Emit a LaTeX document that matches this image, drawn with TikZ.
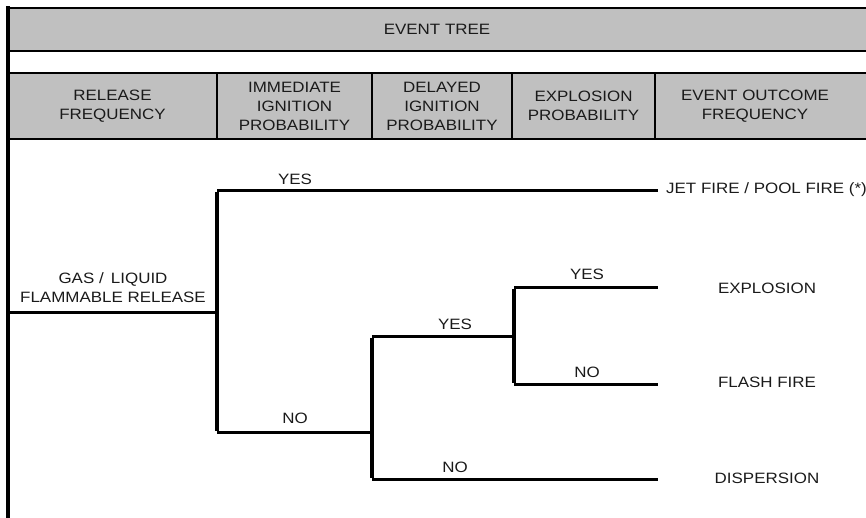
\documentclass[tikz,border=0pt]{standalone}
\usepackage{fontspec}
\setmainfont[FakeStretch=1.13]{Liberation Sans}
\definecolor{band}{HTML}{C0C0C0}
\definecolor{ink}{HTML}{1A1A1A}
\begin{document}
\begin{tikzpicture}[x=1pt,y=-1pt,
  txt/.style={text=ink, font=\fontsize{15}{19}\selectfont, align=center, inner sep=0pt},
  cell/.style={draw=black, fill=band, line width=2pt, inner sep=0pt},
  hline/.style={line width=3pt, draw=black},
  vline/.style={line width=4.6pt, draw=black},
  border/.style={line width=3.2pt, draw=black}]
\useasboundingbox (0,0) rectangle (866,518);
% title band
\path[cell] (8,8) rectangle (880,51);
\node[txt] (title) at (437,29) {EVENT TREE};
% white band
\draw[line width=2pt] (8,73) -- (880,73);
% header cells
\path[cell] (8,73) rectangle (217,139);
\path[cell] (217,73) rectangle (372,139);
\path[cell] (372,73) rectangle (512,139);
\path[cell] (512,73) rectangle (655,139);
\path[cell] (655,73) rectangle (880,139);
\node[txt] (h1) at (112.5,106) {RELEASE\\FREQUENCY};
\node[txt] (h2) at (294.5,106) {IMMEDIATE\\IGNITION\\PROBABILITY};
\node[txt] (h3) at (442,106) {DELAYED\\IGNITION\\PROBABILITY};
\node[txt] (h4) at (583.5,106) {EXPLOSION\\PROBABILITY};
\node[txt] (h5) at (755,106) {EVENT OUTCOME\\FREQUENCY};
% left border
\draw[border] (8,6.5) -- (8,520);
% tree coordinates
\coordinate (s) at (8,312);
\coordinate (a) at (217,312);
\coordinate (aT) at (217,191);
\coordinate (aB) at (217,432);
\coordinate (jet) at (658,191);
\coordinate (b) at (372,432);
\coordinate (bT) at (372,336);
\coordinate (bB) at (372,479);
\coordinate (c) at (514,336);
\coordinate (cT) at (514,287);
\coordinate (cB) at (514,384);
\coordinate (exp) at (658,287);
\coordinate (fla) at (658,384);
\coordinate (dis) at (658,479);
% horizontals
\draw[hline] (s) -- (a);
\draw[hline] (aT) -- (jet);
\draw[hline] (aB) -- (b);
\draw[hline] (bT) -- (c);
\draw[hline] (cT) -- (exp);
\draw[hline] (cB) -- (fla);
\draw[hline] (bB) -- (dis);
% verticals
\draw[vline] ([yshift=-1.5pt]aT) -- ([yshift=1.5pt]aB);
\draw[vline] ([yshift=-1.5pt]bT) -- ([yshift=1.5pt]bB);
\draw[vline] ([yshift=-1.5pt]cT) -- ([yshift=1.5pt]cB);
% labels
\node[txt] (rel) at (113,288) {GAS /\, LIQUID\\FLAMMABLE RELEASE};
\node[txt] (y1) at (295,179) {YES};
\node[txt] (n1) at (295,418) {NO};
\node[txt] (y2) at (455,324) {YES};
\node[txt] (n2) at (455,467) {NO};
\node[txt] (y3) at (587,274) {YES};
\node[txt] (n3) at (587,372) {NO};
\node[txt, anchor=west] (o1) at (666,190) {JET FIRE / POOL FIRE (*)};
\node[txt] (o2) at (767,288) {EXPLOSION};
\node[txt] (o3) at (767,382) {FLASH FIRE};
\node[txt] (o4) at (767,478) {DISPERSION};
\end{tikzpicture}
\end{document}
